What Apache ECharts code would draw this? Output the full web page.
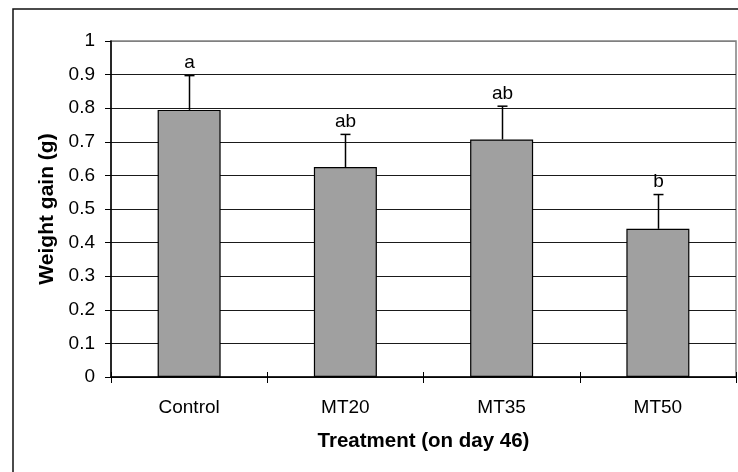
<!DOCTYPE html>
<html>
<head>
<meta charset="utf-8">
<script src="https://cdn.jsdelivr.net/npm/echarts@6/dist/echarts.min.js"></script>
<style>
html,body{margin:0;padding:0;background:#fff;}
#chart{width:738px;height:472px;}
</style>
</head>
<body>
<div id="chart"></div>
<script>
var categories = ['Control', 'MT20', 'MT35', 'MT50'];
var meanGain = [0.795, 0.625, 0.707, 0.441];
var errGain = [0.102, 0.097, 0.099, 0.102];
var sigLabels = ['a', 'ab', 'ab', 'b'];
var yTicks = [0, 0.1, 0.2, 0.3, 0.4, 0.5, 0.6, 0.7, 0.8, 0.9, 1];

var FONT = '"Liberation Sans", Arial, sans-serif';
var chart = echarts.init(document.getElementById('chart'));

var errData = categories.map(function (c, i) { return [i, meanGain[i], meanGain[i] + errGain[i], sigLabels[i]]; });
var splitColors = yTicks.map(function (t, i) { return i === yTicks.length - 1 ? '#808080' : '#1a1a1a'; });

chart.setOption({
  backgroundColor: '#fff',
  animation: false,
  graphic: [{
    type: 'rect', shape: { x: 13, y: 9, width: 740, height: 480 },
    style: { fill: 'none', stroke: '#111', lineWidth: 1.5 }, z: 0, silent: true
  }],
  grid: { left: 111, right: 2, top: 41, bottom: 95, show: true, borderColor: '#808080', borderWidth: 1.5, backgroundColor: 'transparent' },
  xAxis: [{
    type: 'category', data: categories, position: 'bottom',
    axisLine: { lineStyle: { color: '#000', width: 1.5 } },
    axisTick: { show: true, inside: false, length: 6, lineStyle: { color: '#000', width: 1 } },
    axisLabel: { color: '#000', fontFamily: FONT, fontSize: 19, margin: 21 },
    name: 'Treatment (on day 46)', nameLocation: 'middle', nameGap: 54,
    nameTextStyle: { color: '#000', fontFamily: FONT, fontSize: 20.5, fontWeight: 'bold' }
  }, {
    type: 'category', data: categories, position: 'bottom',
    axisLine: { show: false },
    axisTick: { show: true, inside: true, length: 5, lineStyle: { color: '#000', width: 1 } },
    axisLabel: { show: false }
  }],
  yAxis: {
    type: 'value', min: 0, max: 1, interval: 0.1,
    axisLine: { show: true, lineStyle: { color: '#000', width: 1.5 } },
    axisTick: { show: true, inside: false, length: 6, lineStyle: { color: '#000', width: 1 } },
    axisLabel: { color: '#000', fontFamily: FONT, fontSize: 19, margin: 16,
      formatter: function (v) { return String(Math.round(v * 10) / 10); } },
    splitLine: { show: true, lineStyle: { color: splitColors, width: 1.2 } },
    name: 'Weight gain (g)', nameLocation: 'middle', nameGap: 52, nameRotate: 90,
    nameTextStyle: { color: '#000', fontFamily: FONT, fontSize: 21, fontWeight: 'bold' }
  },
  series: [{
    type: 'bar', data: meanGain, barWidth: 63, xAxisIndex: 0,
    itemStyle: { color: '#a0a0a0', borderColor: '#000', borderWidth: 1.2 },
    z: 2
  }, {
    type: 'custom', xAxisIndex: 0, data: errData, z: 3,
    renderItem: function (params, api) {
      var base = api.coord([api.value(0), api.value(1)]);
      var top = api.coord([api.value(0), api.value(2)]);
      var x = Math.round(base[0]) + 0.5;
      return {
        type: 'group',
        children: [
          { type: 'line', shape: { x1: x, y1: base[1], x2: x, y2: top[1] }, style: { stroke: '#000', lineWidth: 1.5 } },
          { type: 'line', shape: { x1: x - 5, y1: top[1], x2: x + 5, y2: top[1] }, style: { stroke: '#000', lineWidth: 1.5 } },
          { type: 'text', style: { text: sigLabels[params.dataIndex], x: x, y: top[1] - 3, textAlign: 'center', textVerticalAlign: 'bottom',
              fill: '#000', font: '19px ' + FONT } }
        ]
      };
    }
  }]
});
</script>
</body>
</html>
